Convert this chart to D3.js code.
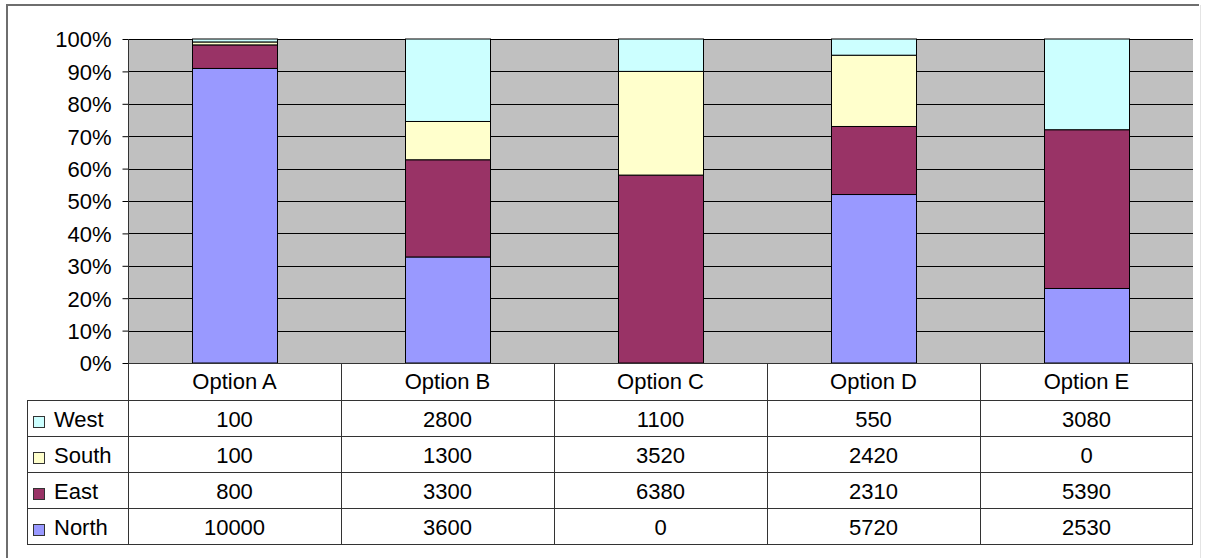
<!DOCTYPE html>
<html>
<head>
<meta charset="utf-8">
<script src="https://cdn.jsdelivr.net/npm/d3@7"></script>
<style>
  body { margin: 0; background: #fff; }
  svg text { font-family: "Liberation Sans", Arial, sans-serif; fill: #000; }
</style>
</head>
<body>
<script>
(function(){

var categories = ["Option A", "Option B", "Option C", "Option D", "Option E"];
var seriesNames = ["North", "East", "South", "West"]; //stack order, bottom first
var north = [10000, 3600, 0, 5720, 2530];
var east = [800, 3300, 6380, 2310, 5390];
var south = [100, 1300, 3520, 2420, 0];
var west = [100, 2800, 1100, 550, 3080];
var yTicks = [0, 0.1, 0.2, 0.3, 0.4, 0.5, 0.6, 0.7, 0.8, 0.9, 1];
var colors = {North: "#9999ff", East: "#993366", South: "#ffffcc", West: "#ccffff"};

var width = 1210, height = 558;
var fontSize = "22px";

//plot frame
var plotLeft = 128, plotRight = 1193, plotTop = 39, plotBottom = 363;
var tableLeft = 27, rowH = 36;

var svg = d3.select("body")
    .append("svg")
    .attr("width", width)
    .attr("height", height);

//outer frame of the chart
svg.append("line").attr("x1", 6).attr("x2", 1199).attr("y1", 5).attr("y2", 5)
    .attr("stroke", "#6e6e6e").attr("stroke-width", 2);
svg.append("line").attr("x1", 7).attr("x2", 7).attr("y1", 4).attr("y2", 558)
    .attr("stroke", "#6e6e6e").attr("stroke-width", 2);
svg.append("line").attr("x1", 1200.5).attr("x2", 1200.5).attr("y1", 5).attr("y2", 558)
    .attr("stroke", "#e4e4e4").attr("stroke-width", 1);

//build table of rows keyed by category
var valueRows = {North: north, East: east, South: south, West: west};
var data = categories.map(function(c, i){
    var row = {category: c};
    seriesNames.forEach(function(s){ row[s] = valueRows[s][i]; });
    return row;
});

var stacked = d3.stack()
    .keys(seriesNames)
    .offset(d3.stackOffsetExpand)(data);

var x = d3.scaleBand()
    .domain(categories)
    .range([plotLeft, plotRight]);

var y = d3.scaleLinear()
    .domain([0, 1])
    .range([plotBottom, plotTop]);

var barW = x.bandwidth() / 2.5;

//plot background
svg.append("rect")
    .attr("x", plotLeft)
    .attr("y", plotTop)
    .attr("width", plotRight - plotLeft)
    .attr("height", plotBottom - plotTop)
    .attr("fill", "#c0c0c0");

//gridlines
svg.selectAll(".grid")
    .data(yTicks.slice(1))
    .enter()
    .append("line")
    .attr("class", "grid")
    .attr("x1", plotLeft)
    .attr("x2", plotRight)
    .attr("y1", function(d){ return Math.round(y(d)) + 0.5; })
    .attr("y2", function(d){ return Math.round(y(d)) + 0.5; })
    .attr("stroke", "#000")
    .attr("stroke-width", 1);

//bars
var layers = svg.selectAll(".layer")
    .data(stacked)
    .enter()
    .append("g")
    .attr("class", "layer")
    .attr("fill", function(d){ return colors[d.key]; });

layers.selectAll("rect")
    .data(function(d){ return d; })
    .enter()
    .append("rect")
    .filter(function(d){ return d[1] - d[0] > 0; })
    .attr("x", function(d){ return Math.round(x(d.data.category) + (x.bandwidth() - barW) / 2) + 0.5; })
    .attr("width", Math.round(barW))
    .attr("y", function(d){ return y(d[1]); })
    .attr("height", function(d){ return y(d[0]) - y(d[1]); })
    .attr("stroke", "#000")
    .attr("stroke-width", 1);

//y axis
var yAxis = d3.axisLeft(y)
    .tickValues(yTicks)
    .tickSize(6)
    .tickFormat(d3.format(".0%"));

var axis = svg.append("g")
    .attr("transform", "translate(" + (plotLeft + 0.5) + ",0)")
    .call(yAxis);
axis.select(".domain").remove();
axis.selectAll(".tick line").attr("stroke", "#000");
axis.selectAll(".tick text")
    .attr("x", -17)
    .attr("dy", "0.36em")
    .style("font-size", fontSize)
    .style("font-family", "'Liberation Sans', Arial, sans-serif")
    .attr("fill", "#000");

//data table
var tableRows = ["West", "South", "East", "North"];
var tableTop = plotBottom + 37;
var tableBottom = tableTop + rowH * tableRows.length;
var lineColor = "#333";

//vertical axis line down through the table
svg.append("line")
    .attr("x1", plotLeft + 0.5).attr("x2", plotLeft + 0.5)
    .attr("y1", plotTop).attr("y2", tableBottom)
    .attr("stroke", lineColor);

//plot bottom / header top
svg.append("line")
    .attr("x1", plotLeft).attr("x2", plotRight)
    .attr("y1", plotBottom + 0.5).attr("y2", plotBottom + 0.5)
    .attr("stroke", lineColor);

//row lines
svg.selectAll(".rowLine")
    .data(d3.range(tableRows.length + 1))
    .enter()
    .append("line")
    .attr("x1", tableLeft).attr("x2", plotRight)
    .attr("y1", function(i){ return tableTop + i * rowH + 0.5; })
    .attr("y2", function(i){ return tableTop + i * rowH + 0.5; })
    .attr("stroke", lineColor);

//column lines
svg.selectAll(".colLine")
    .data(categories.slice(1).concat(["end"]))
    .enter()
    .append("line")
    .attr("x1", function(c){ return c == "end" ? plotRight - 0.5 : Math.round(x(c)) + 0.5; })
    .attr("x2", function(c){ return c == "end" ? plotRight - 0.5 : Math.round(x(c)) + 0.5; })
    .attr("y1", plotBottom).attr("y2", tableBottom)
    .attr("stroke", lineColor);

svg.append("line")
    .attr("x1", tableLeft + 0.5).attr("x2", tableLeft + 0.5)
    .attr("y1", tableTop).attr("y2", tableBottom)
    .attr("stroke", lineColor);

//header labels
svg.selectAll(".header")
    .data(categories)
    .enter()
    .append("text")
    .attr("x", function(c){ return x(c) + x.bandwidth() / 2; })
    .attr("y", plotBottom + 26)
    .attr("text-anchor", "middle")
    .style("font-size", fontSize)
    .text(function(c){ return c; });

//row labels with legend keys
var rowG = svg.selectAll(".rowLabel")
    .data(tableRows)
    .enter()
    .append("g")
    .attr("transform", function(s, i){ return "translate(0," + (tableTop + i * rowH) + ")"; });

rowG.append("rect")
    .attr("x", 33.5).attr("y", 16.5)
    .attr("width", 11).attr("height", 11)
    .attr("fill", function(s){ return colors[s]; })
    .attr("stroke", "#333");

rowG.append("text")
    .attr("x", 54)
    .attr("y", 27)
    .style("font-size", fontSize)
    .text(function(s){ return s; });

//values
rowG.selectAll(".val")
    .data(function(s){ return valueRows[s].map(function(v, i){ return {v: v, c: categories[i]}; }); })
    .enter()
    .append("text")
    .attr("x", function(d){ return x(d.c) + x.bandwidth() / 2; })
    .attr("y", 27)
    .attr("text-anchor", "middle")
    .style("font-size", fontSize)
    .text(function(d){ return d.v; });

})();
</script>
</body>
</html>
